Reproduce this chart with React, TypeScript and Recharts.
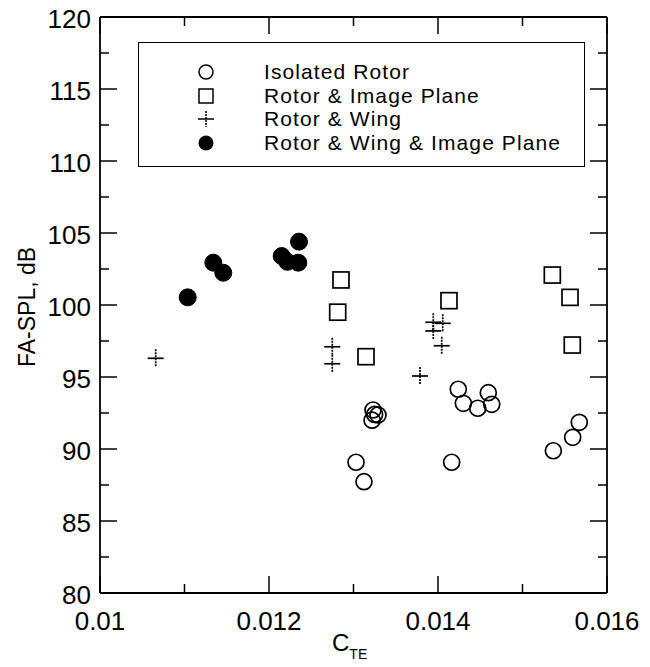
import React from 'react';
import {
  ScatterChart,
  Scatter,
  XAxis,
  YAxis,
  Label,
} from 'recharts';

// FA-SPL vs C_TE
const isolatedRotor = [
  { cte: 0.01424, spl: 94.15 },
  { cte: 0.0143, spl: 93.17 },
  { cte: 0.01447, spl: 92.83 },
  { cte: 0.014595, spl: 93.91 },
  { cte: 0.014636, spl: 93.1 },
  { cte: 0.013231, spl: 92.71 },
  { cte: 0.01329, spl: 92.36 },
  { cte: 0.01322, spl: 92.0 },
  { cte: 0.01325, spl: 92.4 },
  { cte: 0.01303, spl: 89.08 },
  { cte: 0.013124, spl: 87.73 },
  { cte: 0.014162, spl: 89.08 },
  { cte: 0.015365, spl: 89.88 },
  { cte: 0.015594, spl: 90.81 },
  { cte: 0.015672, spl: 91.85 },
];

const rotorImagePlane = [
  { cte: 0.012852, spl: 101.74 },
  { cte: 0.012813, spl: 99.5 },
  { cte: 0.013148, spl: 96.41 },
  { cte: 0.01413, spl: 100.3 },
  { cte: 0.015353, spl: 102.08 },
  { cte: 0.015562, spl: 100.53 },
  { cte: 0.015589, spl: 97.22 },
];

const rotorWing = [
  { cte: 0.010659, spl: 96.3 },
  { cte: 0.012749, spl: 97.1 },
  { cte: 0.012749, spl: 95.92 },
  { cte: 0.013787, spl: 95.07 },
  { cte: 0.013944, spl: 98.8 },
  { cte: 0.013944, spl: 98.2 },
  { cte: 0.014056, spl: 98.73 },
  { cte: 0.014044, spl: 97.17 },
];

const rotorWingImagePlane = [
  { cte: 0.011038, spl: 100.53 },
  { cte: 0.011341, spl: 102.94 },
  { cte: 0.011459, spl: 102.24 },
  { cte: 0.01215, spl: 103.4 },
  { cte: 0.012217, spl: 103.0 },
  { cte: 0.012347, spl: 102.94 },
  { cte: 0.012355, spl: 104.4 },
];

const xTicks = [0.01, 0.011, 0.012, 0.013, 0.014, 0.015, 0.016];
const yTicks = [80, 82.5, 85, 87.5, 90, 92.5, 95, 97.5, 100, 102.5, 105, 107.5, 110, 112.5, 115, 117.5, 120];

const legendLabels = [
  'Isolated Rotor',
  'Rotor & Image Plane',
  'Rotor & Wing',
  'Rotor & Wing & Image Plane',
];

// chart is pulled up over the body margin so it spans the full page height
const W = 634;
const H = 667;
const PLOT = { left: 92, right: 599, top: 17, bottom: 593 };
const FONT = '"Liberation Sans", Arial, Helvetica, sans-serif';
const LONG = 17;
const SHORT = 9;

const xMajor = (v: number) => Math.round(v * 1000) % 2 === 0;
const yMajor = (v: number) => v % 5 === 0;

const BottomTick = ({ x, payload }: any) => {
  const v = payload.value;
  const major = xMajor(v);
  return (
    <g>
      <line x1={x} x2={x} y1={PLOT.bottom} y2={PLOT.bottom - (major ? LONG : SHORT)} stroke="#000" strokeWidth={1.5} />
      {major && (
        <text x={x} y={PLOT.bottom + 37} textAnchor="middle" fontSize={26} fontFamily={FONT} fill="#000">
          {String(v)}
        </text>
      )}
    </g>
  );
};

const TopTick = ({ x, payload }: any) => {
  const major = xMajor(payload.value);
  return (
    <line x1={x} x2={x} y1={PLOT.top} y2={PLOT.top + (major ? LONG : SHORT)} stroke="#000" strokeWidth={1.5} />
  );
};

const LeftTick = ({ y, payload }: any) => {
  const v = payload.value;
  const major = yMajor(v);
  return (
    <g>
      <line x1={PLOT.left} x2={PLOT.left + (major ? LONG : SHORT)} y1={y} y2={y} stroke="#000" strokeWidth={1.5} />
      {major && (
        <text x={PLOT.left - 9} y={y + 11} textAnchor="end" fontSize={26} fontFamily={FONT} fill="#000">
          {String(v)}
        </text>
      )}
    </g>
  );
};

const RightTick = ({ y, payload }: any) => {
  const major = yMajor(payload.value);
  return (
    <line x1={PLOT.right} x2={PLOT.right - (major ? LONG : SHORT)} y1={y} y2={y} stroke="#000" strokeWidth={1.5} />
  );
};

const OpenCircle = ({ cx, cy }: any) => (
  <circle cx={cx} cy={cy} r={8} fill="none" stroke="#000" strokeWidth={1.7} />
);

const OpenSquare = ({ cx, cy }: any) => (
  <rect x={cx - 8} y={cy - 8} width={16} height={16} fill="none" stroke="#000" strokeWidth={1.7} />
);

const Plus = ({ cx, cy }: any) => (
  <g stroke="#000" strokeWidth={1.7}>
    <line x1={cx - 8} x2={cx + 8} y1={cy} y2={cy} />
    <line x1={cx} x2={cx} y1={cy - 9} y2={cy + 9} strokeDasharray="2 1" />
  </g>
);

const FilledCircle = ({ cx, cy }: any) => (
  <circle cx={cx} cy={cy} r={8.5} fill="#000" stroke="#000" />
);

const legendSymbols = [
  <circle cx={10} cy={10} r={7} fill="none" stroke="#000" strokeWidth={1.5} />,
  <rect x={3} y={3} width={14} height={14} fill="none" stroke="#000" strokeWidth={1.5} />,
  <g stroke="#000" strokeWidth={1.5}>
    <line x1={2} x2={18} y1={10} y2={10} />
    <line x1={10} x2={10} y1={2} y2={18} strokeDasharray="2 1" />
  </g>,
  <circle cx={10} cy={10} r={7.5} fill="#000" />,
];

const rowY = [29, 52.5, 76, 99.5];

const App: React.FC = () => {
  return (
    <div style={{ position: 'relative', top: -8, width: W, height: H, fontFamily: FONT }}>
      <ScatterChart width={W} height={H} margin={{ top: 16, right: 34, bottom: 34, left: 32 }}>
        <XAxis
          type="number"
          dataKey="cte"
          domain={[0.01, 0.016]}
          allowDataOverflow
          ticks={xTicks}
          interval={0}
          height={40}
          tickLine={false}
          tickSize={0}
          tick={<BottomTick />}
          axisLine={{ stroke: '#000', strokeWidth: 1.8 }}
        >
          <Label
            content={() => (
              <text x={324} y={651} fontSize={24} fontFamily={FONT} fill="#000">
                C<tspan dy={8} fontSize={14}>TE</tspan>
              </text>
            )}
          />
        </XAxis>
        <XAxis
          xAxisId="top"
          orientation="top"
          type="number"
          dataKey="cte"
          domain={[0.01, 0.016]}
          allowDataOverflow
          ticks={xTicks}
          interval={0}
          height={1}
          tickLine={false}
          tickSize={0}
          tick={<TopTick />}
          axisLine={{ stroke: '#000', strokeWidth: 1.8 }}
        />
        <YAxis
          type="number"
          dataKey="spl"
          domain={[80, 120]}
          allowDataOverflow
          ticks={yTicks}
          interval={0}
          width={60}
          tickLine={false}
          tickSize={0}
          tick={<LeftTick />}
          axisLine={{ stroke: '#000', strokeWidth: 1.8 }}
        >
          <Label
            content={() => (
              <text
                x={19}
                y={307}
                transform="rotate(-90 19 307)"
                textAnchor="middle"
                dominantBaseline="central"
                fontSize={23}
                fontFamily={FONT}
                fill="#000"
              >
                FA-SPL, dB
              </text>
            )}
          />
        </YAxis>
        <YAxis
          yAxisId="right"
          orientation="right"
          type="number"
          dataKey="spl"
          domain={[80, 120]}
          allowDataOverflow
          ticks={yTicks}
          interval={0}
          width={1}
          tickLine={false}
          tickSize={0}
          tick={<RightTick />}
          axisLine={{ stroke: '#000', strokeWidth: 1.8 }}
        />
        <Scatter name="Isolated Rotor" data={isolatedRotor} shape={<OpenCircle />} isAnimationActive={false} />
        <Scatter name="Rotor & Image Plane" data={rotorImagePlane} shape={<OpenSquare />} isAnimationActive={false} />
        <Scatter name="Rotor & Wing" data={rotorWing} shape={<Plus />} isAnimationActive={false} />
        <Scatter
          name="Rotor & Wing & Image Plane"
          data={rotorWingImagePlane}
          shape={<FilledCircle />}
          isAnimationActive={false}
        />
      </ScatterChart>

      <div
        style={{
          position: 'absolute',
          left: 130,
          top: 42,
          width: 447,
          height: 125,
          border: '1.8px solid #000',
          boxSizing: 'border-box',
          background: '#fff',
        }}
      >
        {legendLabels.map((label, i) => (
          <div key={label}>
            <svg
              width={20}
              height={20}
              style={{ position: 'absolute', left: 57, top: rowY[i] - 10 }}
            >
              {legendSymbols[i]}
            </svg>
            <div
              style={{
                position: 'absolute',
                left: 125,
                top: rowY[i] - 10,
                fontSize: 21,
                lineHeight: '20px',
                letterSpacing: 1.1,
                whiteSpace: 'nowrap',
                color: '#000',
              }}
            >
              {label}
            </div>
          </div>
        ))}
      </div>
    </div>
  );
};

export default App;
